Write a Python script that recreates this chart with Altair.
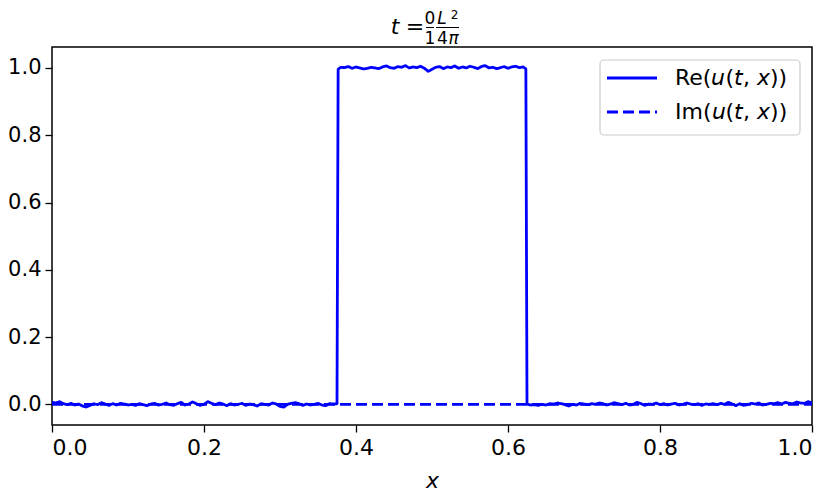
import altair as alt
import pandas as pd

# ---- data ----
left_re = [0.006, 0.004, 0.008, 0.002, -0.001, 0.003, -0.002, 0.001, -0.005, -0.008,
           -0.003, 0.002, -0.001, 0.005, 0.001, -0.003, 0.002, -0.002, 0.003, 0.001,
           -0.002, 0.000, -0.003, 0.002, -0.001, -0.004, 0.001, 0.003, -0.002, 0.000,
           0.004, -0.001, -0.003, 0.002, 0.006, -0.002, 0.001, 0.007, 0.002, -0.003,
           0.000, 0.008, 0.003, -0.001, 0.004, 0.001, -0.004, 0.002, -0.002, 0.000,
           0.003, -0.003, 0.001, -0.001, -0.005, 0.002, 0.000, -0.002, 0.004, 0.001,
           -0.006, -0.008, 0.000, 0.003, 0.005, 0.002, -0.003, 0.001, -0.002, 0.000,
           0.003, -0.002, -0.004, 0.002, 0.001, 0.002]
top_re = [0.996,
          1.002, 1.001, 1.004, 0.999, 1.003, 1.000, 0.997, 0.999, 1.002, 1.000,
          0.998, 1.003, 1.006, 1.001, 0.999, 1.004, 1.002, 1.007, 1.000, 1.003,
          1.001, 1.005, 0.999, 0.990, 0.996, 1.002, 1.004, 0.998, 1.003, 1.001,
          1.006, 0.999, 1.003, 1.000, 1.005, 1.002, 0.998, 1.004, 1.007, 1.000,
          1.002, 0.998, 1.001, 1.004, 0.999, 1.003, 1.005, 1.001, 1.003,
          0.997]
right_re = [0.001, -0.002, -0.001, -0.003, 0.000, -0.002, 0.002, 0.001, 0.004, 0.002,
            -0.001, -0.005, 0.000, -0.002, 0.003, 0.001, -0.001, 0.002, 0.000, 0.004,
            0.002, -0.002, 0.001, 0.005, 0.002, -0.001, 0.003, -0.002, 0.000, 0.006,
            0.002, -0.003, 0.001, 0.000, 0.004, -0.001, 0.002, -0.002, 0.001, 0.003,
            -0.002, 0.000, 0.004, 0.001, -0.001, 0.002, -0.003, 0.001, 0.000, 0.002,
            -0.001, 0.003, 0.000, 0.006, 0.001, -0.004, 0.002, -0.003, -0.001, 0.003,
            0.001, 0.004, -0.002, 0.000, 0.003, 0.002, 0.005, 0.001, 0.006, 0.003,
            0.002, 0.007, 0.004, 0.003, 0.008, 0.005]
im_x = [0.0, 1.0]
im_vals = [0.0, 0.0]
x_ticks = [0.0, 0.2, 0.4, 0.6, 0.8, 1.0]
y_ticks = [0.0, 0.2, 0.4, 0.6, 0.8, 1.0]
RE_LABEL = "Re(\U0001D636(\U0001D635, \U0001D639))"
IM_LABEL = "Im(\U0001D636(\U0001D635, \U0001D639))"

# sample positions
left_x = [round(0.005 * i, 4) for i in range(len(left_re))]
top_x = [0.3765] + [round(0.38 + 0.005 * i, 4) for i in range(len(top_re) - 2)] + [0.6235]
right_x = [round(0.625 + 0.005 * i, 4) for i in range(len(right_re))]

re_x = left_x + top_x + right_x
re_y = left_re + top_re + right_re
df = pd.DataFrame({
    "x": re_x + im_x,
    "y": re_y + im_vals,
    "s": [RE_LABEL] * len(re_x) + [IM_LABEL] * len(im_x),
    "o": list(range(len(re_x))) + list(range(len(im_x))),
})

BLUE = "#0000ff"
FONT = "DejaVu Sans"
LW = 2.8
DASH = [11, 5]

line = alt.Chart(df).mark_line(color=BLUE, strokeWidth=LW, strokeJoin="round").encode(
    x=alt.X("x:Q", scale=alt.Scale(domain=[0, 1], nice=False),
            axis=alt.Axis(values=x_ticks, format=".1f", title="x", titleFontStyle="italic",
                          titleFontWeight="normal", titleFontSize=22, titleFont=FONT,
                          titleColor="black", titlePadding=12, labelPadding=5,
                          labelFontSize=22)),
    y=alt.Y("y:Q", scale=alt.Scale(domain=[-0.0614, 1.0623], nice=False),
            axis=alt.Axis(values=y_ticks, format=".1f", title=None, labelPadding=4,
                          labelFontSize=21)),
    strokeDash=alt.StrokeDash(
        "s:N",
        scale=alt.Scale(domain=[RE_LABEL, IM_LABEL], range=[[1, 0], DASH]),
        legend=None,
    ),
    order="o:Q",
)

one = pd.DataFrame({"k": [0]})


def txt(s, x, y, size, italic=False, align="center", baseline="alphabetic"):
    return alt.Chart(one).mark_text(
        text=s, font=FONT, fontSize=size, fontStyle="italic" if italic else "normal",
        align=align, baseline=baseline, color="black",
    ).encode(x=alt.value(x), y=alt.value(y))


def bar(x1, x2, y, color="black", width=1, dash=None):
    kw = {"color": color, "strokeWidth": width}
    if dash is not None:
        kw["strokeDash"] = dash
    return alt.Chart(one).mark_rule(**kw).encode(
        x=alt.value(x1), x2=alt.value(x2), y=alt.value(y))


# title  t = (0/1) (L^2 / 4 pi), drawn as a small stacked fraction
title_layers = [
    txt("t", 343, -13, 22, True),
    txt("=", 363, -13, 22),
    txt("0", 378, -23, 17),
    bar(374, 382, -19.5),
    txt("1", 378, -3, 17),
    txt("L", 390, -23, 17, True),
    txt("2", 402.5, -28, 12),
    bar(384, 407, -19.5),
    txt("4", 390.5, -3, 17),
    txt("\u03c0", 401.5, -3, 17, True),
]

# legend box (matplotlib style, upper right)
legend_box = alt.Chart(one).mark_rect(
    fill="white", fillOpacity=0.85, stroke="#cccccc", strokeWidth=1.2, cornerRadius=4
).encode(x=alt.value(548), x2=alt.value(748), y=alt.value(13), y2=alt.value(88))
legend_layers = [
    legend_box,
    bar(555, 605, 31, BLUE, LW),
    bar(555, 605, 65, BLUE, LW, DASH),
    txt(RE_LABEL, 623, 31, 22, align="left", baseline="middle"),
    txt(IM_LABEL, 623, 65, 22, align="left", baseline="middle"),
]

chart = alt.layer(line, *title_layers, *legend_layers).properties(
    width=760, height=378,
    autosize=alt.AutoSizeParams(type="none"),
    padding={"left": 44, "top": 39, "right": 10, "bottom": 68},
).configure_view(
    stroke="black", strokeWidth=1.5
).configure_axis(
    domain=False, grid=False, ticks=True, tickSize=7, tickColor="black", tickWidth=1.3,
    labelFont=FONT, labelColor="black",
)

chart.save("out.html", embed_options={"renderer": "svg", "actions": False})
